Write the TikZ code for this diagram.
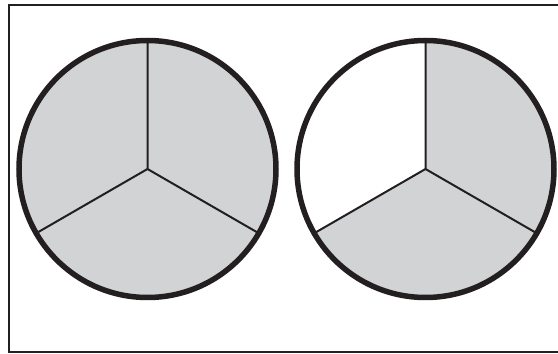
\documentclass[tikz,border=0pt]{standalone}
\definecolor{ink}{HTML}{231F20}
\definecolor{pie}{HTML}{D1D3D4}
\tikzset{
  rim/.style={draw=ink, line width=5.5pt},
  spoke/.style={draw=ink, line width=2pt},
  frame/.style={draw=ink, line width=2pt},
}
\begin{document}
\begin{tikzpicture}[x=1pt,y=1pt]
\useasboundingbox (0,0) rectangle (558,354);
% frame (right side runs beyond the picture)
\coordinate (ftr) at (560,349);
\coordinate (ftl) at (8.5,349);
\coordinate (fbl) at (8.5,2);
\coordinate (fbr) at (560,2);
\draw[frame] (ftr) -- (ftl) -- (fbl) -- (fbr);
% left circle
\coordinate (L) at (147.5,185);
\fill[pie] (L) circle (128.5);
\draw[spoke] (L) -- ++(90:128.5) (L) -- ++(210:128.5) (L) -- ++(330:128.5);
\draw[rim] (L) circle (128.5);
% right circle
\coordinate (R) at (425.5,185);
\fill[pie] (R) -- ++(210:128.5) arc (210:450:128.5) -- cycle;
\draw[spoke] (R) -- ++(90:128.5) (R) -- ++(210:128.5) (R) -- ++(330:128.5);
\draw[rim] (R) circle (128.5);
\end{tikzpicture}
\end{document}
